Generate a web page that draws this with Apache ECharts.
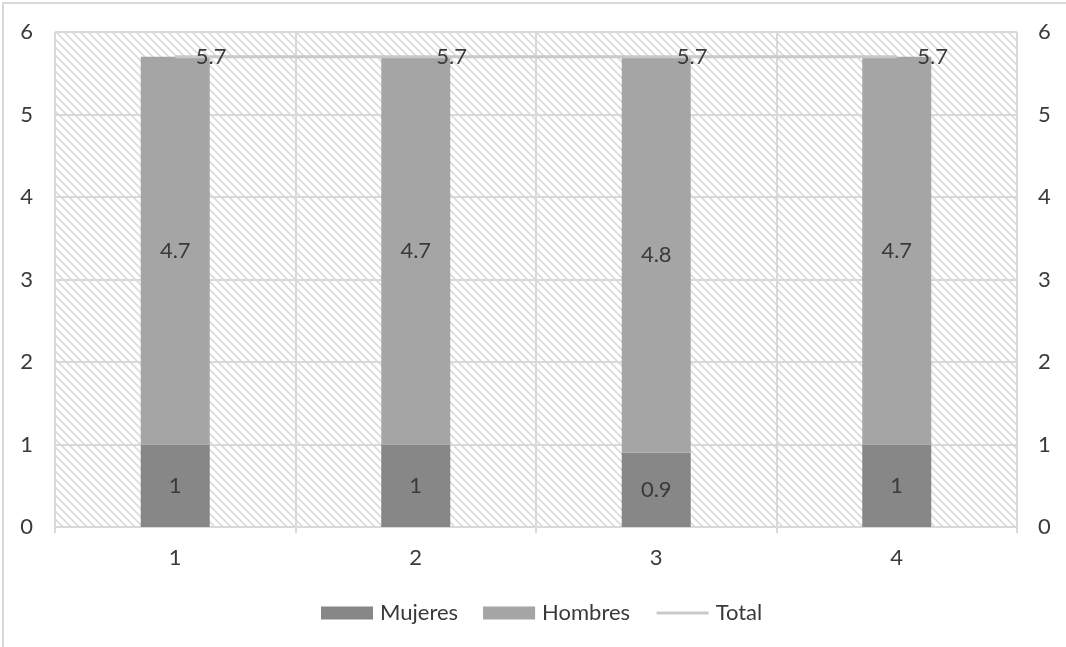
<!DOCTYPE html>
<html>
<head>
<meta charset="utf-8">
<script src="https://cdn.jsdelivr.net/npm/echarts@6/dist/echarts.min.js"></script>
<style>
  html, body { margin: 0; padding: 0; background: #ffffff; }
  #chart { width: 1066px; height: 647px; }
</style>
</head>
<body>
<div id="chart"></div>
<script>
const categories = ['1', '2', '3', '4'];
const mujeres = [1, 1, 0.9, 1];
const hombres = [4.7, 4.7, 4.8, 4.7];
const total = [5.7, 5.7, 5.7, 5.7];
const yTicks = [0, 1, 2, 3, 4, 5, 6];

// Diagonal hatch tile for the plot background
function hatchTile() {
  const s = 8;
  const c = document.createElement('canvas');
  c.width = s; c.height = s;
  const g = c.getContext('2d');
  g.fillStyle = '#ffffff';
  g.fillRect(0, 0, s, s);
  g.strokeStyle = '#dadada';
  g.lineWidth = 1.6;
  g.beginPath();
  g.moveTo(-2, -2); g.lineTo(s + 2, s + 2);
  g.moveTo(-2, s - 2); g.lineTo(2, s + 2);
  g.moveTo(s - 2, -2); g.lineTo(s + 2, 2);
  g.stroke();
  return c;
}

const FONT = 'Lato';
const FS = 22;
const TEXT = '#3a3a3a';
const GRID_LINE = '#d9d9d9';
const LINE_GREY = '#c9c9c9';

const chart = echarts.init(document.getElementById('chart'));
chart.setOption({
  animation: false,
  textStyle: { fontFamily: FONT },
  graphic: [{
    type: 'rect',
    shape: { x: 3, y: 3, width: 1200, height: 800 },
    style: { fill: 'none', stroke: GRID_LINE, lineWidth: 2 },
    silent: true
  }],
  grid: {
    left: 55, right: 49, top: 32, bottom: 120,
    show: true,
    borderWidth: 0,
    backgroundColor: { image: hatchTile(), repeat: 'repeat' }
  },
  legend: {
    top: 597,
    left: 316,
    itemGap: 25,
    itemWidth: 52,
    itemHeight: 13,
    textStyle: { fontFamily: FONT, fontSize: FS, color: TEXT, padding: [0, 0, 0, 2] },
    data: [
      { name: 'Mujeres', icon: 'rect' },
      { name: 'Hombres', icon: 'rect' },
      { name: 'Total', itemStyle: { opacity: 0 }, lineStyle: { color: LINE_GREY, width: 3 } }
    ]
  },
  xAxis: {
    type: 'category',
    data: categories,
    axisLine: { lineStyle: { color: GRID_LINE, width: 2 } },
    axisTick: { show: true, length: 6, lineStyle: { color: GRID_LINE, width: 2 } },
    splitLine: { show: true, lineStyle: { color: GRID_LINE, width: 2 } },
    axisLabel: { color: TEXT, fontSize: FS, margin: 20, fontFamily: FONT }
  },
  yAxis: [{
    type: 'value',
    min: yTicks[0], max: yTicks[yTicks.length - 1], interval: 1,
    axisLine: { show: false },
    axisTick: { show: false },
    splitLine: { show: true, lineStyle: { color: GRID_LINE, width: 2 } },
    axisLabel: { color: TEXT, fontSize: FS, margin: 22, fontFamily: FONT }
  }, {
    type: 'value',
    position: 'right',
    min: yTicks[0], max: yTicks[yTicks.length - 1], interval: 1,
    axisLine: { show: false },
    axisTick: { show: false },
    splitLine: { show: false },
    axisLabel: { color: TEXT, fontSize: FS, margin: 21, fontFamily: FONT }
  }],
  series: [{
    name: 'Mujeres',
    type: 'bar',
    stack: 'total',
    barWidth: 69,
    data: mujeres,
    itemStyle: { color: '#878787' },
    label: { show: true, position: 'inside', color: TEXT, fontSize: FS, fontFamily: FONT }
  }, {
    name: 'Hombres',
    type: 'bar',
    stack: 'total',
    barWidth: 69,
    data: hombres,
    itemStyle: { color: '#a5a5a5' },
    label: { show: true, position: 'inside', color: TEXT, fontSize: FS, fontFamily: FONT }
  }, {
    name: 'Total',
    type: 'line',
    yAxisIndex: 1,
    data: total,
    z: 5,
    symbol: 'circle',
    symbolSize: 1,
    itemStyle: { color: LINE_GREY },
    lineStyle: { color: LINE_GREY, width: 3 },
    label: { show: true, position: 'right', distance: 20, color: TEXT, fontSize: FS, fontFamily: FONT }
  }]
});
</script>
</body>
</html>
